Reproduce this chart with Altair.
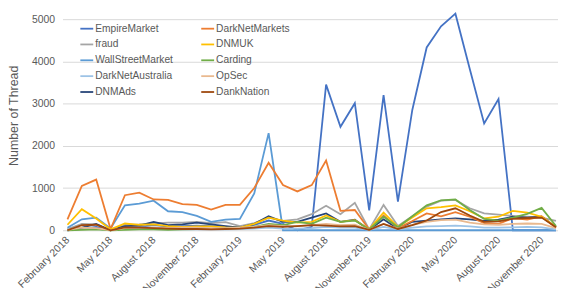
import altair as alt
import pandas as pd

# month index 0 = February 2018 ... 34 = December 2020
months = list(range(35))
tick_values = [0, 3, 6, 9, 12, 15, 18, 21, 24, 27, 30, 33]
tick_labels = ["February 2018", "May 2018", "August 2018", "November 2018",
               "February 2019", "May 2019", "August 2018", "November 2019",
               "February 2020", "May 2020", "August 2020", "November 2020"]

# legend order (column-major so that it reads row by row like the reference)
series_names = ["EmpireMarket", "fraud", "WallStreetMarket", "DarkNetAustralia", "DNMAds",
                "DarkNetMarkets", "DNMUK", "Carding", "OpSec", "DankNation"]

empire_market = [0, 30, 80, 10, 50, 80, 120, 90, 100, 110, 100, 80, 60, 130, 230, 150, 0, 80,
                 3450, 2450, 3010, 470, 3200, 680, 2850, 4330, 4830, 5130, 3820, 2530, 3110, 0, 0, 0, 0]
dark_net_markets = [260, 1050, 1200, 30, 830, 890, 730, 720, 620, 600, 490, 600, 600, 1000, 1600, 1070, 920, 1070,
                    1650, 460, 480, 20, 350, 50, 220, 400, 330, 430, 320, 170, 150, 290, 250, 330, 60]
fraud = [30, 150, 140, 0, 130, 140, 160, 180, 180, 200, 170, 190, 100, 170, 300, 220, 260, 380,
         580, 380, 650, 20, 600, 100, 330, 560, 700, 720, 520, 400, 370, 340, 320, 300, 220]
dnmuk = [130, 500, 280, 20, 160, 130, 140, 100, 80, 90, 90, 70, 60, 150, 300, 230, 180, 200,
         350, 200, 240, 20, 420, 80, 300, 520, 550, 590, 450, 280, 320, 460, 420, 320, 80]
wall_street_market = [60, 260, 300, 40, 590, 630, 700, 450, 430, 340, 200, 250, 270, 870, 2300, 0, 0, 0,
                      0, 0, 0, 0, 0, 0, 0, 0, 0, 0, 0, 0, 0, 0, 0, 0, 0]
carding = [0, 10, 20, 0, 10, 20, 20, 10, 20, 30, 30, 40, 50, 80, 150, 120, 200, 150,
           300, 200, 230, 20, 320, 70, 330, 590, 710, 730, 480, 270, 230, 300, 390, 530, 100]
dark_net_australia = [20, 40, 30, 0, 40, 30, 30, 20, 20, 30, 20, 20, 30, 40, 60, 40, 40, 50,
                      80, 60, 60, 10, 80, 20, 60, 90, 100, 110, 90, 60, 60, 70, 80, 70, 20]
opsec = [10, 60, 50, 0, 50, 60, 60, 50, 60, 60, 50, 50, 60, 80, 120, 100, 100, 120,
         150, 120, 130, 10, 150, 40, 130, 200, 240, 250, 180, 140, 130, 150, 160, 150, 50]
dnmads = [0, 60, 150, 0, 100, 110, 200, 120, 140, 180, 140, 100, 60, 150, 330, 200, 200, 300,
          400, 200, 250, 10, 260, 30, 200, 230, 260, 280, 260, 220, 250, 320, 300, 320, 80]
dank_nation = [0, 120, 130, 0, 70, 60, 50, 40, 30, 30, 20, 30, 40, 60, 100, 80, 100, 120,
               110, 90, 100, 10, 150, 30, 120, 230, 430, 520, 350, 200, 210, 270, 290, 300, 70]

all_series = [empire_market, fraud, wall_street_market, dark_net_australia, dnmads,
              dark_net_markets, dnmuk, carding, opsec, dank_nation]

colors = ["#4472C4", "#A5A5A5", "#5B9BD5", "#9DC3E6", "#264478",
          "#ED7D31", "#FFC000", "#70AD47", "#E9B98F", "#9E480E"]
widths = [1.8, 1.8, 1.8, 1.0, 1.8, 1.8, 1.8, 1.8, 1.0, 1.8]

rows = []
for name, vals in zip(series_names, all_series):
    for m, v in zip(months, vals):
        rows.append({"month": m, "series": name, "threads": v})
df = pd.DataFrame(rows)

label_expr = "[" + ",".join("'%s'" % t for t in tick_labels) + "][round(datum.value/3)]"

regular = "Liberation Sans, Arial, sans-serif"
text_gray = "#595959"

legend = alt.Legend(
    title=None, orient="none", legendX=17, legendY=2, columns=2,
    columnPadding=24, rowPadding=3, padding=0,
    symbolType="stroke", symbolSize=169, labelOffset=1,
    labelFont=regular, labelFontSize=10.3, labelColor=text_gray, labelLimit=300,
)

chart = alt.Chart(df).mark_line().encode(
    x=alt.X("month:Q",
            scale=alt.Scale(domain=[-0.345, 34.14], nice=False, zero=False),
            axis=alt.Axis(values=tick_values, labelExpr=label_expr, labelAngle=-45,
                          labelAlign="right", labelBaseline="middle", labelPadding=8,
                          labelFlush=False, labelOverlap=False, grid=False, domain=False,
                          ticks=False, title=None, labelFont=regular, labelFontSize=10.5,
                          labelColor=text_gray)),
    y=alt.Y("threads:Q",
            scale=alt.Scale(domain=[0, 5000], nice=False),
            axis=alt.Axis(values=[0, 1000, 2000, 3000, 4000, 5000], format="d", grid=True,
                          gridColor="#D9D9D9", gridWidth=1, domain=False, ticks=False,
                          labelPadding=8, labelFont=regular, labelFontSize=10.5,
                          labelColor=text_gray, title="Number of Thread", titleX=-42,
                          titleY=97, titleAngle=-90, titleBaseline="bottom",
                          titleAlign="center", titleFont=regular, titleFontSize=12.5,
                          titleFontWeight="normal", titleColor=text_gray)),
    color=alt.Color("series:N", scale=alt.Scale(domain=series_names, range=colors),
                    legend=legend),
    strokeWidth=alt.StrokeWidth("series:N",
                                scale=alt.Scale(domain=series_names, range=widths),
                                legend=legend),
).properties(
    width=500, height=213,
    autosize=alt.AutoSizeParams(type="none"),
    padding={"left": 55, "top": 10, "right": 0, "bottom": 57},
    background="white",
).configure_view(stroke=None)

chart.save("out.html", embed_options={"renderer": "svg", "actions": False})
